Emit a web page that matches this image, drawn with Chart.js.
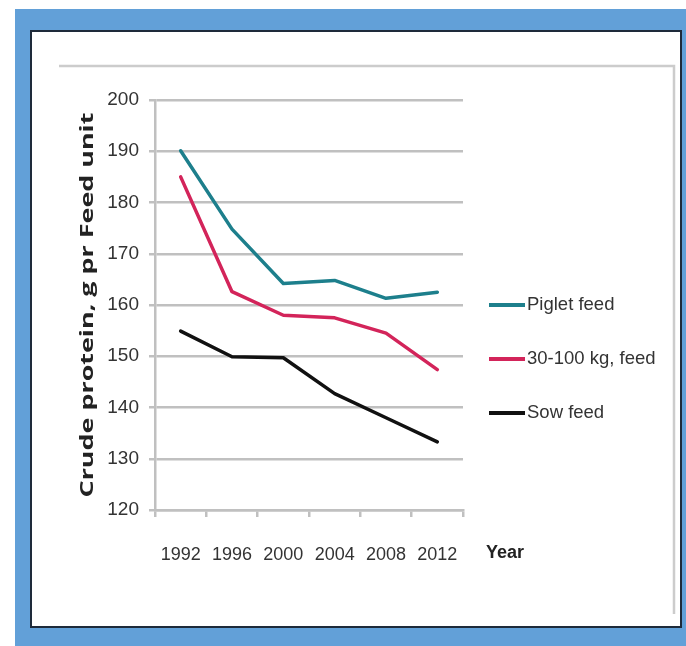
<!DOCTYPE html>
<html>
<head>
<meta charset="utf-8">
<script src="https://cdn.jsdelivr.net/npm/chart.js@4/dist/chart.umd.min.js"></script>
<style>
  html, body { margin: 0; padding: 0; background: #ffffff; }
  #c { display: block; }
</style>
</head>
<body>
<canvas id="c" width="686" height="646"></canvas>
<script>
// Crude protein content of pig feed, g per feed unit
const years = ['1992', '1996', '2000', '2004', '2008', '2012'];
const pigletFeed = [190.1, 174.8, 164.2, 164.8, 161.3, 162.5];
const growerFeed = [185.0, 162.6, 158.0, 157.5, 154.5, 147.4];
const sowFeed    = [154.9, 149.9, 149.7, 142.7, 138.0, 133.3];
const seriesNames = ['Piglet feed', '30-100 kg, feed', 'Sow feed'];
const seriesColors = ['#1d7f8c', '#d3245a', '#111111'];
const yTitle = 'Crude protein, g pr Feed unit';
const xTitle = 'Year';

const FONT = '"Liberation Sans", Arial, sans-serif';
const GRID = '#c0c0c0';
const INK = '#333333';

// Blue frame, white panel and the thin grey outline behind the plot
const framePlugin = {
  id: 'frame',
  beforeDraw(chart) {
    const ctx = chart.ctx;
    ctx.save();
    ctx.fillStyle = '#ffffff';
    ctx.fillRect(0, 0, 686, 646);
    ctx.fillStyle = '#62a0d8';
    ctx.fillRect(15, 9, 671, 637);
    ctx.fillStyle = '#ffffff';
    ctx.fillRect(31, 31, 650, 596);
    ctx.strokeStyle = '#1e2a3a';
    ctx.lineWidth = 2;
    ctx.strokeRect(31, 31, 650, 596);
    ctx.strokeStyle = '#cccccc';
    ctx.lineWidth = 2.5;
    ctx.beginPath();
    ctx.moveTo(59, 66);
    ctx.lineTo(674, 66);
    ctx.lineTo(674, 614);
    ctx.stroke();
    ctx.restore();
  }
};

// Legend on the right, the year axis name and the tall value-axis title
const sidePlugin = {
  id: 'side',
  afterDraw(chart) {
    const ctx = chart.ctx;
    const area = chart.chartArea;
    ctx.save();
    chart.data.datasets.forEach((ds, i) => {
      const y = 305 + i * 54;
      ctx.strokeStyle = ds.borderColor;
      ctx.lineWidth = 4;
      ctx.lineCap = 'butt';
      ctx.beginPath();
      ctx.moveTo(489, y);
      ctx.lineTo(525, y);
      ctx.stroke();
      ctx.fillStyle = INK;
      ctx.font = '18.5px ' + FONT;
      ctx.textBaseline = 'middle';
      ctx.textAlign = 'left';
      ctx.fillText(ds.label, 527, y);
    });
    ctx.fillStyle = '#222222';
    ctx.font = 'bold 18px ' + FONT;
    ctx.textBaseline = 'middle';
    ctx.textAlign = 'left';
    ctx.fillText(xTitle, 486, 553);

    // value-axis title, stretched along its length
    ctx.translate(88, (area.top + area.bottom) / 2);
    ctx.rotate(-Math.PI / 2);
    ctx.font = 'bold 17px "Open Sans", sans-serif';
    const w = ctx.measureText(yTitle).width;
    ctx.scale(385 / w, 1);
    ctx.fillStyle = '#222222';
    ctx.textAlign = 'center';
    ctx.textBaseline = 'middle';
    ctx.fillText(yTitle, 0, 0);
    ctx.restore();
  }
};

const series = [pigletFeed, growerFeed, sowFeed];

new Chart(document.getElementById('c'), {
  type: 'line',
  data: {
    labels: years,
    datasets: series.map((vals, i) => ({
      label: seriesNames[i],
      data: vals,
      borderColor: seriesColors[i],
      backgroundColor: seriesColors[i],
      borderWidth: 3.5,
      pointRadius: 0,
      pointHoverRadius: 0,
      tension: 0,
      fill: false,
      borderJoinStyle: 'round',
      borderCapStyle: 'round'
    }))
  },
  options: {
    responsive: false,
    animation: false,
    devicePixelRatio: 1,
    layout: { padding: { left: 70, top: 100, right: 223, bottom: 0 } },
    plugins: {
      legend: { display: false },
      tooltip: { enabled: false }
    },
    scales: {
      x: {
        offset: true,
        grid: {
          offset: true,
          drawOnChartArea: false,
          drawTicks: true,
          tickLength: 7,
          color: GRID,
          lineWidth: 2.5
        },
        border: { display: true, color: GRID, width: 2.5 },
        ticks: {
          color: INK,
          font: { family: FONT, size: 18 },
          padding: 27,
          maxRotation: 0,
          autoSkip: false
        },
        afterFit(scale) { scale.height = 136; }
      },
      y: {
        min: 120,
        max: 200,
        ticks: {
          stepSize: 10,
          color: INK,
          font: { family: FONT, size: 19 },
          padding: 10
        },
        grid: {
          color: GRID,
          lineWidth: 2.5,
          tickLength: 6
        },
        border: { display: true, color: GRID, width: 2.5 },
        afterFit(scale) { scale.width = 85; }
      }
    }
  },
  plugins: [framePlugin, sidePlugin]
});
</script>
</body>
</html>
